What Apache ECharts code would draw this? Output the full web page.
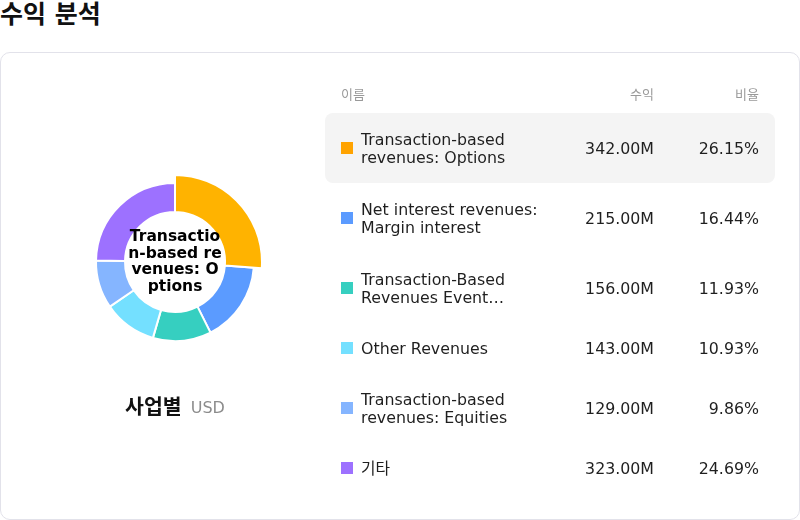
<!DOCTYPE html>
<html>
<head>
<meta charset="utf-8">
<script src="https://cdn.jsdelivr.net/npm/echarts@6/dist/echarts.min.js"></script>
<style>
  html, body { margin: 0; padding: 0; background: #fff; }
  body { width: 800px; height: 520px; position: relative; overflow: hidden;
         font-family: 'DejaVu Sans', 'Noto Sans CJK KR', sans-serif; color: #1f1f1f; }
  #title { position: absolute; left: 0; top: 0; font-size: 25px; line-height: 30px; font-weight: bold; color: #111; }
  #card { position: absolute; left: 0; top: 52px; width: 798px; height: 466px;
          border: 1px solid #e2e2ea; border-radius: 10px; }
  #pie { position: absolute; left: 0; top: 53px; width: 350px; height: 420px; }
  #head { position: absolute; left: 325px; top: 84px; width: 450px; height: 22px; line-height: 22px;
          font-size: 13px; color: #999; }
  #head span { position: absolute; }
  #rows { position: absolute; left: 325px; top: 113px; width: 450px; }
  .row { display: flex; align-items: center; padding: 17px 16px; border-radius: 8px;
         font-size: 15.8px; line-height: 18px; }
  .row .nm, .row .val, .row .pct { position: relative; top: 1px; }
  .row.on { background: #f4f4f4; }
  .sw { width: 12px; height: 12px; margin-right: 8px; flex: none; }
  .nm { width: 200px; flex: none; }
  .val { width: 93px; text-align: right; flex: none; }
  .pct { width: 105px; text-align: right; flex: none; }
</style>
</head>
<body>
<div id="title">수익 분석</div>
<div id="card"></div>
<div id="pie"></div>
<div id="head">
  <span style="left:16px">이름</span>
  <span style="right:121px">수익</span>
  <span style="right:16px">비율</span>
</div>
<div id="rows"></div>
<script>
// 사업별 수익 (USD, 백만)
var names = [
    'Transaction-based revenues: Options',
    'Net interest revenues: Margin interest',
    'Transaction-Based Revenues Event\u2026',
    'Other Revenues',
    'Transaction-based revenues: Equities',
    '기타'
];
var revenues = [342, 215, 156, 143, 129, 323];
var colors = ['#FFA300', '#5B9BFF', '#36CFC0', '#74E0FF', '#85B5FF', '#9D71FF'];
var activeIndex = 0;

var total = revenues.reduce(function (s, v) { return s + v; }, 0);

// table
var rowsEl = document.getElementById('rows');
names.forEach(function (n, i) {
    var row = document.createElement('div');
    row.className = 'row' + (i === activeIndex ? ' on' : '');
    // one-line rows are a bit shorter
    if (n.length < 20) row.style.padding = '16px 16px';
    row.innerHTML = '<div class="sw" style="background:' + colors[i] + '"></div>'
        + '<div class="nm">' + n + '</div>'
        + '<div class="val">' + revenues[i].toFixed(2) + 'M</div>'
        + '<div class="pct">' + (revenues[i] / total * 100).toFixed(2) + '%</div>';
    rowsEl.appendChild(row);
});

var pieChart = echarts.init(document.getElementById('pie'));

var pieConfig = {
    animation: false,
    textStyle: {
        fontFamily: "'DejaVu Sans', 'Noto Sans CJK KR', sans-serif"
    },
    title: {
        left: 'center',
        top: 340,
        text: '{a|사업별}{b|USD}',
        textStyle: {
            rich: {
                a: { fontSize: 20.5, fontWeight: 'bold', color: '#111' },
                b: { fontSize: 16, fontWeight: 'normal', color: '#8c8c8c', padding: [2, 0, 0, 9] }
            }
        }
    },
    series: [{
        type: 'pie',
        center: [175, 209],
        radius: [50, 79],
        startAngle: 90,
        avoidLabelOverlap: false,
        itemStyle: {
            borderColor: '#fff',
            borderWidth: 2
        },
        label: {
            show: false,
            position: 'center'
        },
        labelLine: { show: false },
        emphasis: {
            scale: true,
            scaleSize: 8,
            label: {
                show: true,
                fontSize: 15.5,
                fontWeight: 'bold',
                color: '#000',
                width: 96,
                lineHeight: 16.5,
                overflow: 'breakAll'
            }
        },
        data: names.map(function (n, i) {
            return { name: n, value: revenues[i], itemStyle: { color: colors[i] } };
        })
    }]
};

pieChart.setOption(pieConfig);
pieChart.dispatchAction({ type: 'highlight', seriesIndex: 0, dataIndex: activeIndex });
</script>
</body>
</html>
